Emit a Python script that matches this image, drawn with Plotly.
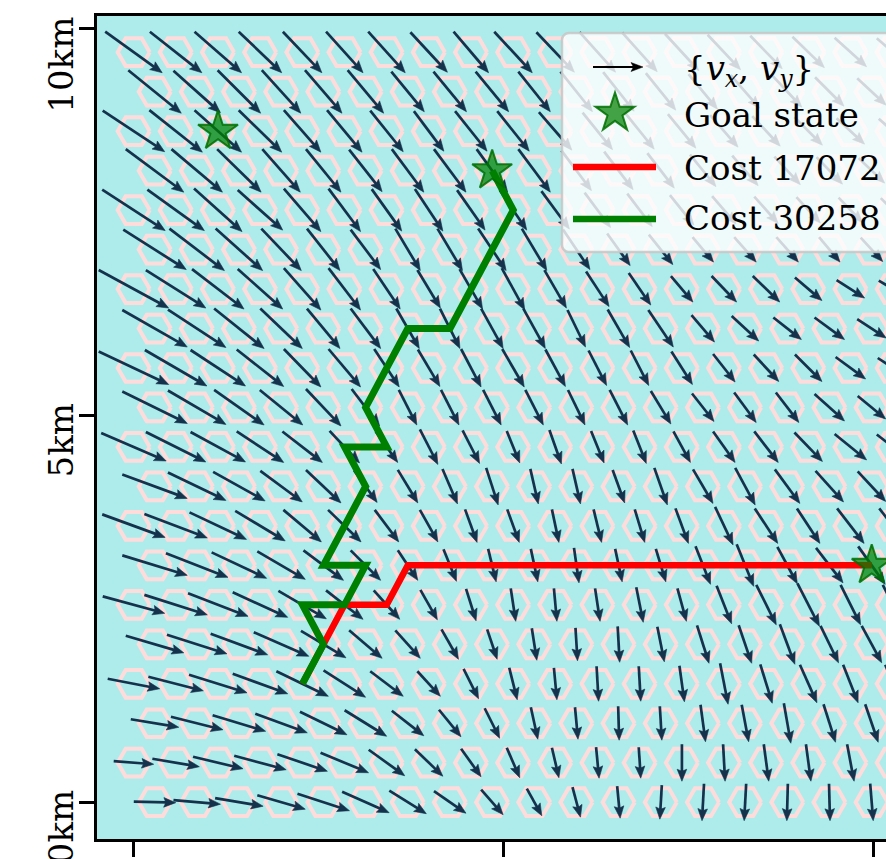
import math
import plotly.graph_objects as go

# ---------------- data ----------------
# hex-cell grid (km)
ROW_SPACING_KM = 0.5103
COL_SPACING_KM = 0.5702
N_ROWS = 20

# velocity field {v_x, v_y}; rows listed from the top row (row 19) down to row 0
# components in arrow-length units (1 unit = 1 px of arrow), v_y positive = north
U_ROWS = [
    [57, 52, 47, 43, 39, 37, 37, 37, 35, 38, 38, 36, 35, 34, 33, 32, 32, 32, 32],
    [53, 47, 43, 39, 37, 36, 33, 33, 33, 32, 32, 31, 30, 29, 29, 29, 29, 29],
    [62, 53, 47, 43, 37, 35, 33, 30, 32, 32, 33, 30, 29, 28, 28, 28, 28, 28, 28],
    [58, 51, 44, 38, 35, 33, 32, 32, 31, 32, 30, 29, 27, 26, 26, 26, 26, 26],
    [63, 57, 48, 45, 37, 32, 30, 28, 28, 27, 28, 26, 25, 24, 24, 24, 24, 24, 24],
    [63, 55, 47, 40, 33, 30, 25, 25, 28, 25, 27, 23, 24, 21, 22, 22, 21, 22],
    [70, 60, 52, 45, 37, 32, 27, 23, 23, 23, 22, 23, 22, 22, 25, 27, 27, 28, 28],
    [65, 58, 50, 42, 33, 30, 23, 20, 22, 22, 18, 22, 25, 23, 27, 28, 30, 29],
    [70, 62, 55, 47, 37, 32, 25, 22, 20, 22, 20, 18, 18, 21, 22, 25, 27, 30, 30],
    [65, 58, 50, 43, 35, 28, 18, 18, 18, 18, 17, 18, 20, 22, 22, 23, 30, 28],
    [65, 60, 55, 47, 40, 30, 22, 18, 17, 13, 12, 13, 13, 17, 22, 24, 28, 32, 32],
    [65, 58, 52, 42, 35, 23, 20, 15, 12, 8, 8, 12, 13, 20, 20, 25, 28, 28],
    [63, 63, 57, 50, 38, 33, 24, 18, 12, 12, 7, 8, 10, 13, 18, 23, 23, 27, 27],
    [65, 62, 55, 48, 40, 30, 20, 13, 8, 7, 5, 7, 10, 15, 17, 20, 27, 27],
    [62, 63, 60, 55, 48, 37, 26, 17, 10, 5, 3, 5, 7, 9, 15, 20, 22, 20, 20],
    [58, 60, 57, 55, 45, 33, 25, 17, 10, 5, 2, 2, 7, 12, 13, 15, 18, 20],
    [52, 55, 58, 55, 52, 42, 33, 23, 15, 8, 3, 2, 2, 5, 8, 12, 17, 15, 15],
    [48, 52, 53, 52, 47, 42, 32, 22, 15, 7, 3, 1, 2, 5, 7, 7, 12, 13],
    [40, 47, 50, 52, 50, 48, 36, 28, 20, 13, 7, 3, 2, 0, 2, 5, 5, 7, 7],
    [42, 47, 48, 48, 52, 47, 37, 32, 22, 15, 8, 3, -2, -2, -2, -1, 1, 3],
]
V_ROWS = [
    [-41, -41, -41, -41, -41, -41, -41, -40, -41, -41, -40, -40, -39, -37, -35, -33, -31, -29, -28],
    [-43, -42, -43, -43, -43, -43, -40, -40, -40, -40, -40, -39, -37, -35, -33, -31, -29, -27],
    [-41, -42, -42, -42, -42, -42, -41, -40, -40, -40, -38, -37, -36, -34, -32, -30, -28, -26, -25],
    [-43, -43, -43, -43, -43, -42, -43, -43, -43, -43, -40, -38, -35, -32, -30, -28, -27, -25],
    [-41, -41, -43, -40, -43, -43, -42, -42, -40, -40, -38, -35, -33, -30, -28, -27, -26, -25, -24],
    [-40, -42, -42, -42, -42, -40, -42, -42, -42, -42, -40, -32, -30, -25, -25, -25, -25, -24],
    [-38, -38, -40, -40, -42, -42, -40, -38, -40, -42, -38, -35, -32, -26, -26, -26, -23, -18, -17],
    [-37, -38, -40, -40, -40, -40, -40, -40, -40, -40, -37, -38, -37, -27, -25, -22, -22, -19],
    [-33, -36, -36, -37, -38, -38, -38, -37, -38, -38, -37, -35, -35, -33, -28, -27, -27, -22, -20],
    [-32, -34, -35, -35, -37, -37, -35, -35, -35, -35, -35, -35, -33, -28, -30, -30, -27, -23],
    [-28, -30, -30, -31, -31, -32, -31, -35, -33, -32, -34, -32, -33, -31, -31, -31, -29, -26, -25],
    [-24, -28, -29, -31, -33, -32, -33, -35, -37, -35, -35, -33, -37, -34, -37, -34, -31, -30],
    [-23, -24, -27, -30, -32, -32, -32, -32, -33, -33, -33, -33, -33, -35, -38, -35, -35, -35, -35],
    [-20, -24, -26, -28, -30, -30, -30, -32, -33, -33, -35, -33, -33, -38, -42, -37, -35, -38],
    [-17, -20, -23, -25, -28, -29, -29, -30, -32, -33, -33, -33, -35, -33, -38, -40, -43, -40, -40],
    [-17, -19, -21, -24, -27, -28, -28, -30, -30, -32, -33, -36, -35, -38, -38, -40, -37, -37],
    [-10, -14, -18, -20, -25, -27, -25, -25, -30, -32, -32, -35, -35, -36, -41, -39, -38, -38, -38],
    [-8, -13, -16, -19, -23, -26, -25, -27, -30, -32, -32, -34, -34, -37, -37, -40, -38, -38],
    [-3, -8, -12, -14, -17, -20, -26, -27, -28, -30, -30, -31, -31, -37, -37, -37, -37, -37, -37],
    [-1, -4, -8, -14, -17, -21, -23, -22, -25, -27, -30, -32, -34, -37, -37, -37, -37, -37],
]

# goal states (km)
GOAL_X = [1.140, 4.847, 9.979]
GOAL_Y = [8.675, 8.165, 3.062]

# planned paths (km)
RED_X = [2.281, 2.566, 2.851, 3.421, 3.706, 9.979]
RED_Y = [1.531, 2.041, 2.552, 2.552, 3.062, 3.062]
GREEN_X = [2.281, 2.566, 2.281, 2.851, 3.136, 2.566, 3.136, 2.851, 3.421,
           3.136, 3.706, 4.277, 5.132, 4.847]
GREEN_Y = [1.531, 2.041, 2.552, 2.552, 3.062, 3.062, 4.082, 4.593, 4.593,
           5.103, 6.124, 6.124, 7.655, 8.165]

Y_TICKS = [0, 5, 10]
Y_TICK_TEXT = ["0km", "5km", "10km"]
X_TICKS = [0, 5, 10]
LEGEND_LABELS = ["{<i>v</i><sub><i>x</i></sub>, <i>v</i><sub><i>y</i></sub>}",
                 "Goal state", "Cost 17072", "Cost 30258"]

# ---------------- layout constants ----------------
W, H = 886, 859
ML, MR, MT, MB = 97, 0, 16, 20
XR = [-0.4962, 10.172]
YR = [-0.4758, 10.164]
PW, PH = W - ML - MR, H - MT - MB
PXK = PW / (XR[1] - XR[0])   # px per km (x)
PYK = PH / (YR[1] - YR[0])   # px per km (y)

BG = "#aeecec"
HEX_COLOR = "#ffdcdc"
ARROW_COLOR = "#15324c"
FONT = "DejaVu Serif"
FS = 34
HEX_R = 16.0   # px, centre to vertex


def paper(px, py):
    return (px - ML) / PW, (H - MB - py) / PH


# ---------------- build marks ----------------
hgx, hgy = [], []
sx, sy, hx, hy = [], [], [], []
HL, HW, HA = 12.0, 4.8, 10.0
for r in range(N_ROWS):
    j = N_ROWS - 1 - r
    yc = j * ROW_SPACING_KM
    off = 0.5 * COL_SPACING_KM if j % 2 == 0 else 0.0
    for c, (u, v) in enumerate(zip(U_ROWS[r], V_ROWS[r])):
        xc = off + c * COL_SPACING_KM

        def k(px, py):
            return xc + px / PXK, yc + py / PYK

        # hexagon outline (flat top)
        for i in range(7):
            ang = math.radians(60 * (i % 6))
            p = k(HEX_R * math.cos(ang), HEX_R * math.sin(ang))
            hgx.append(p[0]); hgy.append(p[1])
        hgx.append(None); hgy.append(None)

        # arrow (pivot at cell centre)
        L = math.hypot(u, v)
        dx, dy = u / L, v / L
        nx, ny = -dy, dx
        tipx, tipy = u / 2, v / 2
        tx, ty = -u / 2, -v / 2
        ex, ey = tipx - (HA - 0.5) * dx, tipy - (HA - 0.5) * dy
        a = k(tx, ty); b = k(ex, ey)
        sx += [a[0], b[0], None]; sy += [a[1], b[1], None]
        p1 = k(tipx, tipy)
        p2 = k(tipx - HL * dx + HW * nx, tipy - HL * dy + HW * ny)
        p3 = k(tipx - HA * dx, tipy - HA * dy)
        p4 = k(tipx - HL * dx - HW * nx, tipy - HL * dy - HW * ny)
        for p in (p1, p2, p3, p4, p1):
            hx.append(p[0]); hy.append(p[1])
        hx.append(None); hy.append(None)

fig = go.Figure()
fig.add_trace(go.Scatter(x=hgx, y=hgy, mode="lines", hoverinfo="skip",
                         line=dict(color=HEX_COLOR, width=4), showlegend=False))
fig.add_trace(go.Scatter(x=sx, y=sy, mode="lines", hoverinfo="skip",
                         line=dict(color=ARROW_COLOR, width=2.7), showlegend=False))
fig.add_trace(go.Scatter(x=hx, y=hy, mode="lines", fill="toself", fillcolor=ARROW_COLOR,
                         hoverinfo="skip", line=dict(color=ARROW_COLOR, width=0.6),
                         showlegend=False))
fig.add_trace(go.Scatter(x=RED_X, y=RED_Y, mode="lines", name=LEGEND_LABELS[2],
                         line=dict(color="#ff0000", width=6.5), showlegend=False))
fig.add_trace(go.Scatter(x=GREEN_X, y=GREEN_Y, mode="lines", name=LEGEND_LABELS[3],
                         line=dict(color="#008000", width=7), showlegend=False))
fig.add_trace(go.Scatter(x=GOAL_X, y=GOAL_Y, mode="markers", name=LEGEND_LABELS[1],
                         marker=dict(symbol="star", size=30, color="rgba(0,128,0,0.72)",
                                     line=dict(color="rgba(0,110,0,0.85)", width=2)),
                         showlegend=False))

# ---------------- manual legend ----------------
shapes = []


def pth(points, close=True):
    s = ""
    for i, (px, py) in enumerate(points):
        x, y = paper(px, py)
        s += ("M" if i == 0 else "L") + f"{x:.5f},{y:.5f} "
    return s + ("Z" if close else "")


# rounded box
bx0, by0, bx1, by1, rr = 562, 33, 910, 252, 7
box_pts = []
for (cx, cy, a0) in [(bx0 + rr, by0 + rr, 180), (bx1 - rr, by0 + rr, 270),
                     (bx1 - rr, by1 - rr, 0), (bx0 + rr, by1 - rr, 90)]:
    for t in range(0, 91, 15):
        ang = math.radians(a0 + t)
        box_pts.append((cx + rr * math.cos(ang), cy + rr * math.sin(ang)))
shapes.append(dict(type="path", xref="paper", yref="paper", path=pth(box_pts),
                   fillcolor="rgba(255,255,255,0.8)",
                   line=dict(color="rgba(200,200,200,0.9)", width=2.5), layer="above"))
# arrow glyph
ay = 67
shapes.append(dict(type="line", xref="paper", yref="paper",
                   x0=paper(593, ay)[0], y0=paper(593, ay)[1],
                   x1=paper(634, ay)[0], y1=paper(634, ay)[1],
                   line=dict(color="black", width=2.2), layer="above"))
shapes.append(dict(type="path", xref="paper", yref="paper",
                   path=pth([(643, ay), (631, ay - 4.5), (633.5, ay), (631, ay + 4.5)]),
                   fillcolor="black", line=dict(color="black", width=0.5), layer="above"))
# star glyph
scx, scy, Ro = 615, 113, 20.5
star_pts = []
for i in range(10):
    rad = Ro if i % 2 == 0 else Ro * 0.382
    ang = math.radians(-90 + 36 * i)
    star_pts.append((scx + rad * math.cos(ang), scy + rad * math.sin(ang)))
shapes.append(dict(type="path", xref="paper", yref="paper", path=pth(star_pts),
                   fillcolor="rgba(0,128,0,0.72)",
                   line=dict(color="rgba(0,110,0,0.85)", width=2), layer="above"))
# line glyphs
for yy, col in [(167, "#ff0000"), (219, "#008000")]:
    shapes.append(dict(type="line", xref="paper", yref="paper",
                       x0=paper(573, yy)[0], y0=paper(573, yy)[1],
                       x1=paper(656, yy)[0], y1=paper(656, yy)[1],
                       line=dict(color=col, width=6.5), layer="above"))

annotations = []
for lbl, yy in zip(LEGEND_LABELS, [70, 115, 168, 218]):
    x, y = paper(683, yy)
    annotations.append(dict(text=lbl, xref="paper", yref="paper", x=x, y=y,
                            xanchor="left", yanchor="middle", showarrow=False,
                            font=dict(family=FONT, size=FS, color="black"), borderpad=0))
# y tick labels (rotated)
for v, t in zip(Y_TICKS, Y_TICK_TEXT):
    annotations.append(dict(text=t, xref="paper", yref="y", x=paper(82, 0)[0], y=v,
                            xanchor="right", yanchor="top", yshift=13, textangle=-90,
                            showarrow=False, borderpad=0,
                            font=dict(family=FONT, size=FS, color="black")))

fig.update_layout(
    width=W, height=H, margin=dict(l=ML, r=MR, t=MT, b=MB, pad=0),
    paper_bgcolor="white", plot_bgcolor=BG, showlegend=False,
    shapes=shapes, annotations=annotations,
    xaxis=dict(range=XR, showgrid=False, zeroline=False, showline=True, mirror=True,
               linecolor="black", linewidth=2.5, ticks="outside", ticklen=15, tickwidth=2.5,
               tickcolor="black", tickvals=X_TICKS, showticklabels=False),
    yaxis=dict(range=YR, showgrid=False, zeroline=False, showline=True, mirror=False,
               linecolor="black", linewidth=2.5, ticks="outside", ticklen=15, tickwidth=2.5,
               tickcolor="black", tickvals=Y_TICKS, showticklabels=False),
)
fig.write_html("out.html")
